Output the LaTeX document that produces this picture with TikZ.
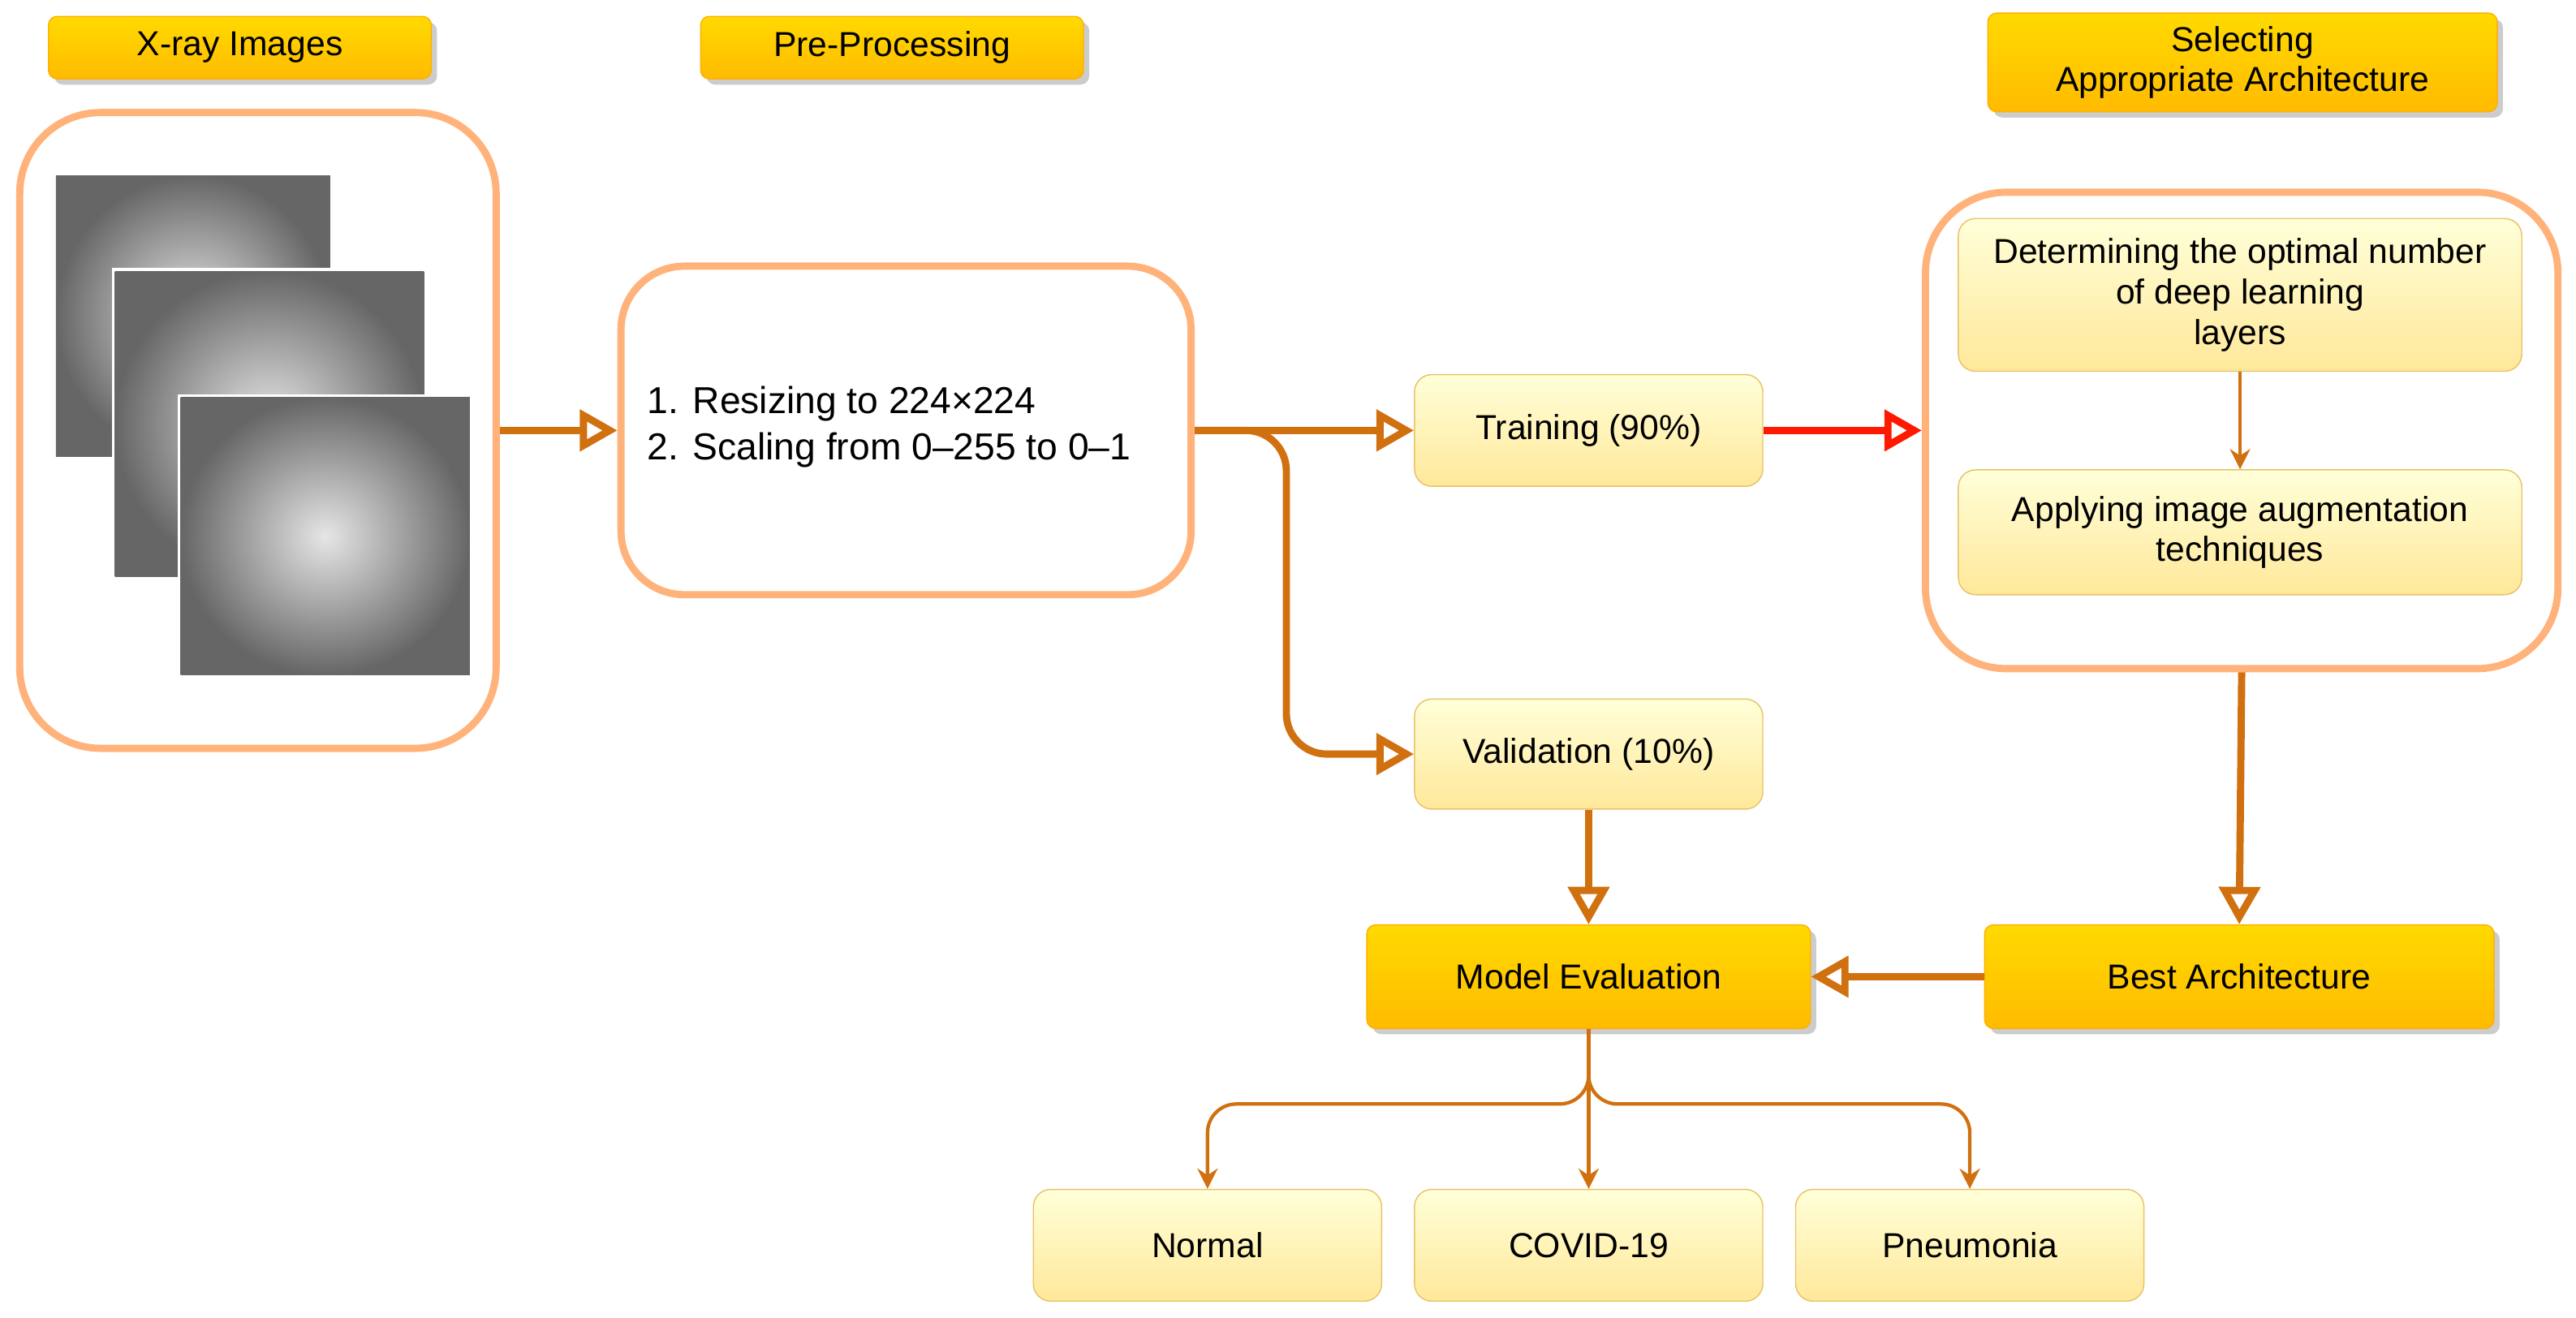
\documentclass[tikz,border=0pt]{standalone}
\usepackage{fontspec}
\setmainfont{Liberation Sans}
\usetikzlibrary{arrows.meta,shadows,positioning}
\definecolor{arr}{HTML}{D0700F}
\definecolor{hdr}{HTML}{FFBB00}
\definecolor{lyt}{HTML}{FFE89A}
\definecolor{lytb}{HTML}{E8C266}
\definecolor{obord}{HTML}{FFB27A}
\begin{document}
\begin{tikzpicture}[x=0.02cm,y=-0.02cm,
  font=\fontsize{12}{14}\selectfont,
  hdr/.style={draw=hdr!80!orange,top color=hdr!55!yellow,bottom color=hdr,rounded corners=3,drop shadow={shadow xshift=2pt,shadow yshift=-2pt,opacity=0.4},align=center,inner sep=0},
  lbox/.style={draw=lytb,top color=yellow!15!white,bottom color=lyt,rounded corners=6,align=center,inner sep=0},
  obox/.style={draw=hdr!80!orange,top color=hdr!55!yellow,bottom color=hdr,rounded corners=3,align=center,inner sep=0,drop shadow={shadow xshift=2pt,shadow yshift=-2pt,opacity=0.4}},
  big/.style={draw=obord,line width=2.5pt,fill=white,rounded corners=28,inner sep=0},
  ar/.style={draw=arr,line width=2.5pt,-{Triangle[open,fill=white,length=13pt,width=14pt]}},
  thin/.style={draw=arr,line width=1.2pt,-{Stealth[length=7pt,width=7pt]},rounded corners=10}]
\useasboundingbox (0,0) rectangle (1568,802);
% headers
\node[hdr,minimum width=233*0.02cm,minimum height=38*0.02cm] (h1) at (146,29) {X-ray Images};
\node[hdr,minimum width=233*0.02cm,minimum height=38*0.02cm] (h2) at (543,29) {Pre-Processing};
\node[hdr,minimum width=310*0.02cm,minimum height=60*0.02cm] (h3) at (1365,38) {Selecting\\Appropriate Architecture};
% xray box
\node[big,minimum width=290*0.02cm,minimum height=387*0.02cm] (xr) at (157,262) {};
\foreach \a/\b/\c/\d in {32/105/203/280,68/163/260/353,108/240/288/413}{
  \fill[white] (\a,\b) rectangle (\c,\d);
  \shade[inner color=gray!20,outer color=black!60] (\a+2,\b+2) rectangle (\c-2,\d-2);
}
% preprocess
\node[big,rounded corners=22,minimum width=347*0.02cm,minimum height=200*0.02cm] (pp) at (551.5,262) {};
\node[anchor=west,align=left,font=\fontsize{13}{16}\selectfont] (pt) at (388,260) {1. Resizing to 224×224\\2. Scaling from 0–255 to 0–1};
% training/validation
\node[lbox,minimum width=212*0.02cm,minimum height=68*0.02cm] (tr) at (967,262) {Training (90\%)};
\node[lbox,minimum width=212*0.02cm,minimum height=67*0.02cm] (va) at (967,459) {Validation (10\%)};
% arch
\node[big,minimum width=385*0.02cm,minimum height=290*0.02cm] (ab) at (1364.5,262) {};
\node[lbox,minimum width=343*0.02cm,minimum height=93*0.02cm] (a1) at (1363.5,179.5) {Determining the optimal number\\of deep learning\\layers};
\node[lbox,minimum width=343*0.02cm,minimum height=76*0.02cm] (a2) at (1363.5,324) {Applying image augmentation\\techniques};
% eval
\node[obox,minimum width=270*0.02cm,minimum height=63*0.02cm] (me) at (967,594.5) {Model Evaluation};
\node[obox,minimum width=310*0.02cm,minimum height=63*0.02cm] (ba) at (1363,594.5) {Best Architecture};
% outputs
\node[lbox,minimum width=212*0.02cm,minimum height=68*0.02cm] (o1) at (735,758) {Normal};
\node[lbox,minimum width=212*0.02cm,minimum height=68*0.02cm] (o2) at (967,758) {COVID-19};
\node[lbox,minimum width=212*0.02cm,minimum height=68*0.02cm] (o3) at (1199,758) {Pneumonia};
% arrows
\draw[ar] (xr.east) -- (pp.west);
\draw[ar] (pp.east) -- (tr.west);
\draw[ar,rounded corners=14] (pp.east) -- (783,262) -- (783,459) -- (va.west);
\draw[ar,draw=red!80!orange] (tr.east) -- (ab.west);
\draw[thin] (a1.south) -- (a2.north);
\draw[ar] (ab.south) -- (ba.north);
\draw[ar] (va.south) -- (me.north);
\draw[ar] (ba.west) -- (me.east);
\coordinate (br) at (967,672);
\draw[thin] (me.south) -- (br) -- (o2.north);
\draw[thin] (me.south) -- (br) -- (735,672) -- (o1.north);
\draw[thin] (me.south) -- (br) -- (1199,672) -- (o3.north);
\end{tikzpicture}
\end{document}
